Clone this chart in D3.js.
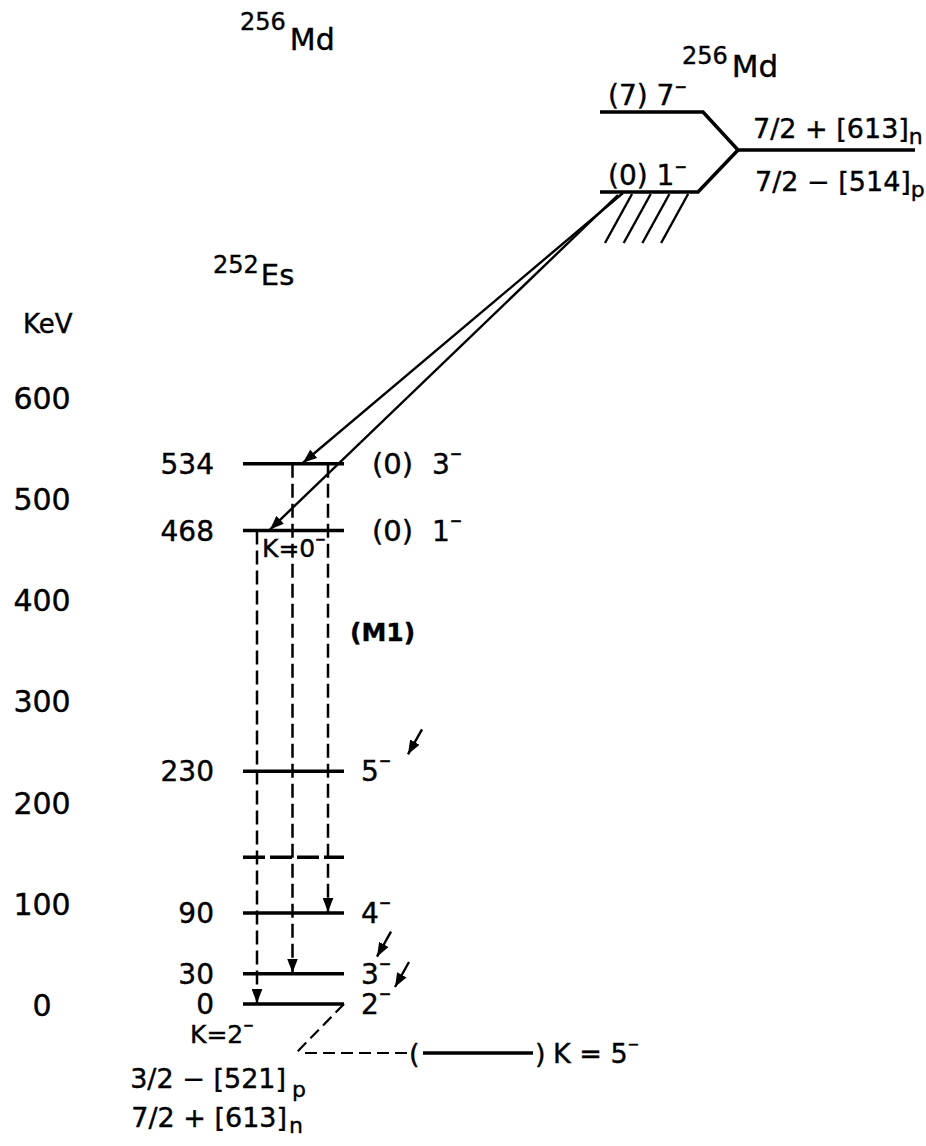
<!DOCTYPE html>
<html>
<head>
<meta charset="utf-8">
<script src="https://cdn.jsdelivr.net/npm/d3@7"></script>
<style>
  body { margin: 0; background: #fff; }
  text { font-family: "DejaVu Sans", sans-serif; fill: #000; stroke: #000; stroke-width: 0.4px; }
</style>
</head>
<body>
<div id="chart"></div>
<script>
// energy axis (keV)
var energyTicks = [0, 100, 200, 300, 400, 500, 600];

// 252Es levels
var esEnergies = [534, 468, 230, 145, 90, 30, 0];
var esEnergyLabels = ["534", "468", "230", "", "90", "30", "0"];
var esKLabels = ["(0)", "(0)", "", "", "", "", ""];
var esSpins = ["3", "1", "5", "", "4", "3", "2"];
var esDashed = [false, false, false, true, false, false, false];

// gamma transitions (dashed), from -> to
var gammaFrom = [468, 534, 534];
var gammaTo = [0, 30, 90];

// alpha feeding from 256Md (0) 1- into these Es levels
var alphaTo = [534, 468];

// levels marked with a small arrow
var markedLevels = [230, 30, 0];

// 256Md states
var mdStates = ["(7) 7", "(0) 1"];

var svgWidth = 926;
var svgHeight = 1146;

var svg = d3.select("#chart")
  .append("svg")
  .attr("width", svgWidth)
  .attr("height", svgHeight);

svg.append("rect").attr("width", svgWidth).attr("height", svgHeight).attr("fill", "#fff");

// arrow head
svg.append("defs").append("marker")
  .attr("id", "head")
  .attr("markerUnits", "userSpaceOnUse")
  .attr("viewBox", "0 0 13 10")
  .attr("markerWidth", 14)
  .attr("markerHeight", 11)
  .attr("refX", 13)
  .attr("refY", 5)
  .attr("orient", "auto")
  .append("path")
  .attr("d", "M0,0 L13,5 L0,10 Z")
  .attr("fill", "#000");

var y = d3.scaleLinear().domain([0, 600]).range([1004, 397]);
var levelX = d3.scaleLinear().domain([0, 1]).range([243, 344]);
var gammaX = d3.scalePoint().domain(d3.range(gammaFrom.length)).range([257, 328]);

// helper for a label with a superscript minus
function withMinus(sel, size, shift) {
  sel.append("tspan")
    .attr("font-size", size)
    .attr("font-weight", "bold")
    .attr("dy", shift)
    .text("\u2212");
}

// energy axis
var axis = d3.axisLeft(y).tickValues(energyTicks).tickSize(0).tickPadding(0);
var axisG = svg.append("g").attr("transform", "translate(42,0)").call(axis);
axisG.select(".domain").remove();
axisG.selectAll("text")
  .attr("x", 0)
  .attr("dy", "0.38em")
  .attr("text-anchor", "middle")
  .attr("font-family", "DejaVu Sans, sans-serif")
  .attr("font-size", 30)
  .attr("fill", "#000");

svg.append("text").attr("x", 23).attr("y", 333).attr("font-size", 26).text("KeV");

// nuclide titles
var t1 = svg.append("text").attr("x", 240).attr("y", 30);
t1.append("tspan").attr("font-size", 24).text("256");
t1.append("tspan").attr("font-size", 30).attr("dx", 4).attr("dy", 20).text("Md");

var t2 = svg.append("text").attr("x", 682).attr("y", 64);
t2.append("tspan").attr("font-size", 24).text("256");
t2.append("tspan").attr("font-size", 31).attr("dx", 4).attr("dy", 13).text("Md");

var t3 = svg.append("text").attr("x", 213).attr("y", 273);
t3.append("tspan").attr("font-size", 24).text("252");
t3.append("tspan").attr("font-size", 29).attr("dx", 2).attr("dy", 12).text("Es");

// Es levels
var levels = svg.append("g");
esEnergies.forEach(function(e, i) {
  levels.append("line")
    .attr("x1", levelX(0)).attr("x2", levelX(1))
    .attr("y1", y(e)).attr("y2", y(e))
    .attr("stroke", "#000")
    .attr("stroke-width", 3.5)
    .attr("stroke-dasharray", esDashed[i] ? "22,5" : null);

  if (esEnergyLabels[i]) {
    levels.append("text")
      .attr("x", 214).attr("y", y(e)).attr("dy", "0.36em")
      .attr("text-anchor", "end")
      .attr("font-size", 28)
      .text(esEnergyLabels[i]);
  }
  if (esKLabels[i]) {
    levels.append("text")
      .attr("x", 372).attr("y", y(e)).attr("dy", "0.36em")
      .attr("font-size", 29)
      .text(esKLabels[i]);
  }
  if (esSpins[i]) {
    var s = levels.append("text")
      .attr("x", esKLabels[i] ? 432 : 361).attr("y", y(e)).attr("dy", "0.36em")
      .attr("font-size", 28)
      .text(esSpins[i]);
    withMinus(s, 15, -15);
  }
});

// gamma transitions
gammaFrom.forEach(function(f, i) {
  svg.append("line")
    .attr("x1", gammaX(i)).attr("x2", gammaX(i))
    .attr("y1", y(f)).attr("y2", y(gammaTo[i]) - 1)
    .attr("stroke", "#000")
    .attr("stroke-width", 2.5)
    .attr("stroke-dasharray", "14,6")
    .attr("marker-end", "url(#head)");
});

var k0 = svg.append("text").attr("x", 262).attr("y", 548).attr("dy", "0.36em")
  .attr("font-size", 25).text("K=0");
withMinus(k0, 13, -13);

svg.append("text").attr("x", 350).attr("y", 632).attr("dy", "0.36em")
  .attr("font-size", 25).attr("font-weight", "bold").text("(M1)");

// small marker arrows
var markX = {230: 408, 30: 377, 0: 395};
markedLevels.forEach(function(e) {
  var tx = markX[e], ty = y(e) - 17;
  svg.append("line")
    .attr("x1", tx + 14).attr("y1", ty - 25)
    .attr("x2", tx).attr("y2", ty)
    .attr("stroke", "#000").attr("stroke-width", 2.4)
    .attr("marker-end", "url(#head)");
});

// 256Md levels
var md = svg.append("g");
md.append("path")
  .attr("d", "M600,112 L703,112 L738,150 L915,150")
  .attr("fill", "none").attr("stroke", "#000").attr("stroke-width", 3.5);
md.append("path")
  .attr("d", "M600,192 L698,192 L738,150")
  .attr("fill", "none").attr("stroke", "#000").attr("stroke-width", 3.5);

var mdY = [105, 185];
mdStates.forEach(function(s, i) {
  var t = md.append("text").attr("x", 608).attr("y", mdY[i])
    .attr("font-size", 28).attr("xml:space", "preserve").text(s);
  withMinus(t, 15, -13);
});

// hatching under the (0) 1- state
d3.range(4).forEach(function(i) {
  var x0 = 632 + i * 18.7;
  md.append("line")
    .attr("x1", x0).attr("y1", 194)
    .attr("x2", x0 - 27).attr("y2", 243)
    .attr("stroke", "#000").attr("stroke-width", 2.4);
});

var c1 = md.append("text").attr("x", 753).attr("y", 138).attr("font-size", 27)
  .attr("xml:space", "preserve").text("7/2 + [613]");
c1.append("tspan").attr("font-size", 22).attr("dy", 6).text("n");
var c2 = md.append("text").attr("x", 755).attr("y", 191).attr("font-size", 27)
  .attr("xml:space", "preserve").text("7/2 \u2212 [514]");
c2.append("tspan").attr("font-size", 22).attr("dy", 6).text("p");

// alpha transitions
var alphaStart = [[623, 193], [618, 195]];
var alphaEndX = [303, 270];
alphaTo.forEach(function(e, i) {
  svg.append("line")
    .attr("x1", alphaStart[i][0]).attr("y1", alphaStart[i][1])
    .attr("x2", alphaEndX[i]).attr("y2", y(e) - 1)
    .attr("stroke", "#000").attr("stroke-width", 2.4)
    .attr("marker-end", "url(#head)");
});

// ground-state configuration
var k2 = svg.append("text").attr("x", 190).attr("y", 1034).attr("dy", "0.36em")
  .attr("font-size", 25).text("K=2");
withMinus(k2, 13, -13);

var g1 = svg.append("text").attr("x", 306).attr("y", 1088).attr("text-anchor", "end")
  .attr("font-size", 27).attr("xml:space", "preserve").text("3/2 \u2212 [521]");
g1.append("tspan").attr("font-size", 22).attr("dx", 6).attr("dy", 9).text("p");
var g2 = svg.append("text").attr("x", 303).attr("y", 1127).attr("text-anchor", "end")
  .attr("font-size", 27).attr("xml:space", "preserve").text("7/2 + [613]");
g2.append("tspan").attr("font-size", 22).attr("dx", 2).attr("dy", 6).text("n");

// K = 5- band
svg.append("path")
  .attr("d", "M" + levelX(1) + "," + y(0) + " L296,1053 M305,1053 L407,1053")
  .attr("fill", "none").attr("stroke", "#000").attr("stroke-width", 2.2)
  .attr("stroke-dasharray", "12,6");
svg.append("text").attr("x", 409).attr("y", 1053).attr("dy", "0.36em").attr("font-size", 27).text("(");
svg.append("line").attr("x1", 423).attr("x2", 533).attr("y1", 1053).attr("y2", 1053)
  .attr("stroke", "#000").attr("stroke-width", 3.5);
svg.append("text").attr("x", 535).attr("y", 1053).attr("dy", "0.36em").attr("font-size", 27).text(")");
var k5 = svg.append("text").attr("x", 553).attr("y", 1053).attr("dy", "0.36em")
  .attr("font-size", 27).attr("xml:space", "preserve").text("K = 5");
withMinus(k5, 14, -14);
</script>
</body>
</html>
